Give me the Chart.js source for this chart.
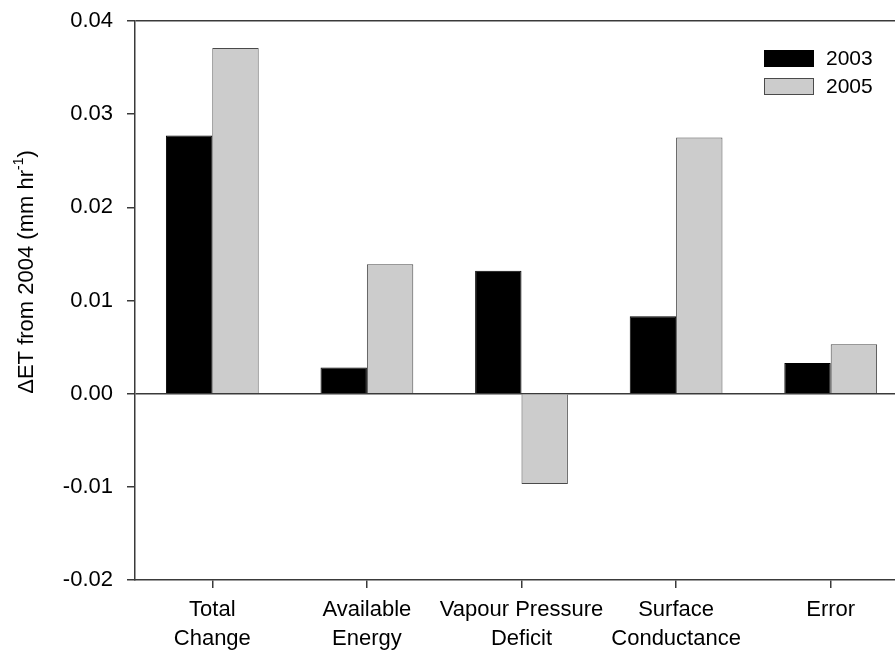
<!DOCTYPE html>
<html>
<head>
<meta charset="utf-8">
<script src="https://cdn.jsdelivr.net/npm/chart.js@4"></script>
<style>
  html, body { margin: 0; padding: 0; background: #fff; overflow: hidden; }
  #wrap { position: relative; width: 908px; height: 650px; }
</style>
</head>
<body>
<div id="wrap"><canvas id="c"></canvas></div>
<script>
const categories = [["Total", "Change"], ["Available", "Energy"], ["Vapour Pressure", "Deficit"], ["Surface", "Conductance"], ["Error"]];
const seriesNames = ["2003", "2005"];
const values2003 = [0.0277, 0.0028, 0.0132, 0.0083, 0.0033];
const values2005 = [0.0371, 0.0139, -0.0097, 0.0275, 0.0053];
const yTicks = [-0.02, -0.01, 0.00, 0.01, 0.02, 0.03, 0.04];
const yTitleMain = "\u0394ET from 2004 (mm hr";
const yTitleSup = "-1";
const yTitleEnd = ")";

const AX = '#3a3a3a';
const FONT = 'Liberation Sans, Arial, sans-serif';

const legendPlugin = {
  id: 'customLegend',
  afterDraw(chart) {
    const ctx = chart.ctx;
    const ds = chart.data.datasets;
    const x0 = chart.chartArea.left + 629;
    const y0 = chart.chartArea.top + 29;
    ctx.save();
    ds.forEach((d, i) => {
      const y = y0 + i * 28;
      ctx.fillStyle = d.backgroundColor;
      ctx.fillRect(x0, y, 50, 17);
      ctx.strokeStyle = d.borderColor;
      ctx.lineWidth = 1;
      ctx.strokeRect(x0 + 0.5, y + 0.5, 49, 16);
      ctx.fillStyle = '#000';
      ctx.font = '21px ' + FONT;
      ctx.textBaseline = 'middle';
      ctx.textAlign = 'left';
      ctx.fillText(d.label, x0 + 62, y + 9);
    });
    ctx.restore();
  }
};

const yTitlePlugin = {
  id: 'yTitle',
  afterDraw(chart) {
    const ctx = chart.ctx;
    ctx.save();
    ctx.translate(33, 272);
    ctx.rotate(-Math.PI / 2);
    ctx.fillStyle = '#000';
    ctx.textBaseline = 'alphabetic';
    ctx.textAlign = 'left';
    const mainFont = '22px ' + FONT;
    const supFont = '14px ' + FONT;
    ctx.font = mainFont;
    const w1 = ctx.measureText(yTitleMain).width;
    const w3 = ctx.measureText(yTitleEnd).width;
    ctx.font = supFont;
    const w2 = ctx.measureText(yTitleSup).width;
    const total = w1 + w2 + w3;
    let x = -total / 2;
    ctx.font = mainFont;
    ctx.fillText(yTitleMain, x, 0);
    x += w1;
    ctx.font = supFont;
    ctx.fillText(yTitleSup, x, -10);
    x += w2;
    ctx.font = mainFont;
    ctx.fillText(yTitleEnd, x, 0);
    ctx.restore();
  }
};

new Chart(document.getElementById('c'), {
  type: 'bar',
  data: {
    labels: categories,
    datasets: [
      { label: seriesNames[0], data: values2003, backgroundColor: '#000000', borderColor: '#000000', borderWidth: 1 },
      { label: seriesNames[1], data: values2005, backgroundColor: '#cccccc', borderColor: '#4a4a4a', borderWidth: 1 }
    ]
  },
  options: {
    responsive: true,
    maintainAspectRatio: false,
    animation: false,
    layout: { padding: { top: 21, right: 0, bottom: 0, left: 0 } },
    plugins: { legend: { display: false }, tooltip: { enabled: false } },
    datasets: { bar: { barPercentage: 1.0, categoryPercentage: 0.6 } },
    scales: {
      x: {
        offset: true,
        grid: { offset: false, drawOnChartArea: false, drawTicks: true, tickLength: 8, tickColor: AX, lineWidth: 1.5 },
        border: { display: true, color: AX, width: 1.5 },
        ticks: { color: '#000', font: { family: FONT, size: 22, lineHeight: 1.3 }, padding: 8, maxRotation: 0, autoSkip: false },
        afterFit(scale) { scale.height = 70; scale.paddingLeft = 0; scale.paddingRight = 0; }
      },
      y: {
        min: yTicks[0],
        max: yTicks[yTicks.length - 1],
        afterBuildTicks(scale) { scale.ticks = yTicks.map(v => ({ value: v })); },
        grid: {
          drawTicks: true, tickLength: 8, tickColor: AX, lineWidth: 1.5,
          color: (c) => (c.tick && (Math.abs(c.tick.value) < 1e-9 || Math.abs(c.tick.value - 0.04) < 1e-9)) ? AX : 'rgba(0,0,0,0)'
        },
        border: { display: true, color: AX, width: 1.5 },
        ticks: { color: '#000', font: { family: FONT, size: 22 }, padding: 14, callback: (v) => Number(v).toFixed(2) },
        afterFit(scale) { scale.width = 135; scale.paddingTop = 0; scale.paddingBottom = 0; }
      }
    }
  },
  plugins: [legendPlugin, yTitlePlugin]
});
</script>
</body>
</html>
